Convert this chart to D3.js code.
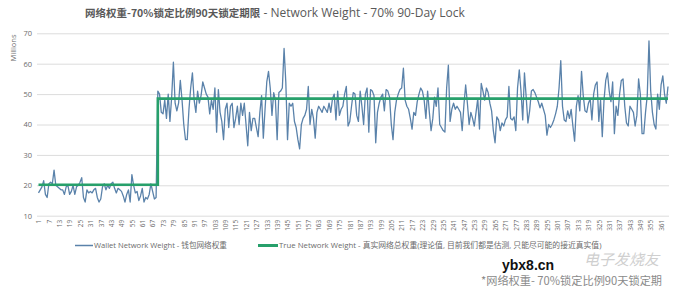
<!DOCTYPE html>
<html><head><meta charset="utf-8">
<script src="https://cdn.jsdelivr.net/npm/d3@7"></script>
<style>body{margin:0;background:#fff}svg{display:block}</style>
</head><body><svg id="c" width="680" height="296"></svg>
<script>
// Wallet Network Weight (millions), one value per day, days 1..365
const wallet = [
  17.5, 18.5, 19.5, 21.5, 17, 16, 20.5, 21, 20.5, 25,
  20, 19.5, 19, 18.5, 18.5, 17, 19.5, 20, 17, 18,
  20, 17, 19.5, 20, 21, 22.5, 16, 14.5, 18.5, 17.5,
  18, 17.5, 18.5, 19, 16, 14.5, 15.5, 19.5, 20.5, 18.5,
  20, 19, 20.5, 21, 19, 17.5, 19, 18.5, 18, 16.5,
  14.5, 17, 18.5, 14.5, 23.5, 20, 17.5, 18, 15, 16.5,
  19, 14.5, 16, 15.5, 17, 20.5, 18, 15.5, 16,
  51, 50, 44, 43.5, 48, 42, 50, 41, 49, 60.5, 47,
  44.5, 47, 54.5, 48, 40, 35, 35, 45, 52, 57,
  48, 44, 51, 47, 49.5, 54, 52, 50, 49, 43.5,
  48, 45, 52, 37.5, 51.5, 44, 41, 35, 45, 47,
  39, 46, 47, 39, 42, 46, 40, 47, 43, 47,
  40, 33, 44, 38, 42, 42, 39, 36, 44, 49.5,
  35.5, 45, 54, 57.5, 52, 43, 50.5, 48, 35, 50.5,
  51, 52, 65, 54, 35, 47, 46, 47, 41, 39,
  35, 32, 40, 42, 43, 45, 52.5, 40, 45, 42,
  35.5, 44, 46, 45, 44, 46, 45, 44, 47, 44,
  48.5, 50, 41.5, 51, 43, 45, 46, 50, 52.5, 39.5,
  41, 46, 50.5, 50, 43, 41, 51, 46, 40, 50,
  52, 37.5, 51.5, 51, 49.5, 34, 44, 47, 49, 50,
  44.5, 51.5, 51, 49, 40, 35, 44, 48, 50, 51.5,
  52, 58.5, 48, 46, 45, 42, 38.5, 44, 43, 47.5,
  50, 52, 51, 48, 42, 51, 44, 38, 42, 49,
  46, 52, 40, 39, 38, 37.5, 52, 59.5, 41, 45,
  47, 45, 46, 45, 44, 38, 46.5, 53, 47, 40,
  44, 42, 39.5, 44, 48.5, 38.5, 53.5, 51, 48, 52,
  50.5, 47, 44.5, 38, 34, 42.5, 41.5, 38, 40.5, 39.5,
  41.5, 42.5, 52.5, 42, 41.5, 42.5, 38, 52, 58, 51,
  41.5, 57, 49, 40.5, 44.5, 51, 51.5, 50.5, 49, 47.5,
  45.5, 47, 45, 43, 36.5, 40, 39, 40, 41.5, 43.5,
  46, 52, 61, 46, 41.5, 41, 44.5, 42, 45, 39.5,
  34.5, 46, 49.5, 44.5, 57.5, 49.5, 44.5, 44, 47, 48.5,
  41.5, 50, 53, 54, 41, 48, 36, 48, 54.5, 57,
  51, 47.5, 54, 37, 46, 43, 50, 54.5, 55, 46,
  40.5, 39.5, 46, 45, 44, 39.5, 43, 55, 50, 37,
  37, 44, 49.5, 67.5, 51, 44, 40, 38.5, 50, 45,
  53, 56, 50, 47, 52.5
];
// True Network Weight: step line
const trueDays = [1, 70, 70, 365];
const trueValues = [20.2, 20.2, 48.5, 48.5];
const yTicks = [10, 20, 30, 40, 50, 60, 70];
const xTicks = d3.range(1, 366, 6);
const titleCN = "网络权重-70%锁定比例90天锁定期限";
const titleEN = " - Network Weight - 70% 90-Day Lock";
const yLabel = "Millions";
const legendNames = ["Wallet Network Weight - 钱包网络权重",
  "True Network Weight - 真实网络总权重(理论值, 目前我们都是估测, 只能尽可能的接近真实值)"];
const footnote = "*网络权重- 70%锁定比例90天锁定期";

const FONT = "'Open Sans','Noto Sans CJK SC',sans-serif";
const svg = d3.select("#c").style("font-family", FONT);
svg.append("rect").attr("width", 680).attr("height", 296).attr("fill", "#fff");

const x = d3.scaleLinear().domain([1, 365]).range([38.5, 668]);
const y = d3.scaleLinear().domain([10, 70]).range([215.7, 33.3]);
const gridL = 37, gridR = 669;

// y axis + gridlines
const ya = svg.append("g").attr("transform", `translate(${gridL},0)`)
  .call(d3.axisLeft(y).tickValues(yTicks).tickSize(-(gridR - gridL)).tickPadding(5));
ya.select(".domain").remove();
ya.selectAll(".tick line").attr("stroke", "#dcdcdc").attr("stroke-width", 1);
ya.selectAll(".tick text").attr("fill", "#6b6b6b").style("font-size", "7.5px").style("font-family", FONT);

// x axis labels
const xa = svg.append("g").attr("transform", `translate(0,${y(10)})`)
  .call(d3.axisBottom(x).tickValues(xTicks).tickSize(0));
xa.select(".domain").remove();
xa.selectAll(".tick text")
  .attr("transform", "rotate(-90)")
  .attr("x", -4).attr("y", 0).attr("dy", "0.35em")
  .style("text-anchor", "end")
  .attr("fill", "#6b6b6b").style("font-size", "6.5px").style("font-family", FONT);

// y label
svg.append("text").attr("transform", "translate(16,48) rotate(-90)")
  .attr("text-anchor", "middle").attr("fill", "#6b6b6b")
  .style("font-size", "7.5px").text(yLabel);

// wallet line
const line = d3.line().x((d, i) => x(i + 1)).y(d => y(d));
svg.append("path").datum(wallet).attr("d", line)
  .attr("fill", "none").attr("stroke", "#5a82aa").attr("stroke-width", 1.3)
  .attr("stroke-linejoin", "round");

// true line
const tline = d3.line().x((d, i) => x(trueDays[i])).y(d => y(d));
svg.append("path").datum(trueValues).attr("d", tline)
  .attr("fill", "none").attr("stroke", "#27a06b").attr("stroke-width", 2.6);

// title
const t = svg.append("text").attr("x", 85).attr("y", 17).attr("fill", "#595959");
t.append("tspan").style("font-family", "'Noto Sans CJK SC',sans-serif").style("font-weight", "bold")
  .style("font-size", "10.5px").text(titleCN);
t.append("tspan").style("font-size", "12px").text(titleEN);

// legend
const lg = svg.append("g");
lg.append("line").attr("x1", 75).attr("x2", 93).attr("y1", 245.5).attr("y2", 245.5)
  .attr("stroke", "#5a82aa").attr("stroke-width", 1.5);
lg.append("text").attr("x", 94).attr("y", 248).attr("fill", "#6b6b6b")
  .style("font-size", "7.6px").text(legendNames[0]);
lg.append("line").attr("x1", 258).attr("x2", 278).attr("y1", 245.5).attr("y2", 245.5)
  .attr("stroke", "#27a06b").attr("stroke-width", 3);
lg.append("text").attr("x", 279).attr("y", 248).attr("fill", "#6b6b6b")
  .style("font-size", "7.8px").text(legendNames[1]);

// footnote + watermark
svg.append("text").attr("x", 481).attr("y", 285).attr("fill", "#8a8a8a")
  .style("font-family", "'Noto Sans CJK SC',sans-serif").style("font-size", "11.2px").text(footnote);
svg.append("text").attr("x", 502).attr("y", 270).attr("fill", "#111")
  .style("font-family", "'Liberation Sans',Arial,sans-serif").style("font-weight", "bold")
  .style("font-size", "14px").text("ybx8.cn");
svg.append("text").attr("x", 584).attr("y", 265).attr("fill", "#cfcfcf")
  .style("font-family", "'Noto Sans CJK SC',sans-serif").style("font-style", "italic")
  .style("font-size", "15px").text("电子发烧友");
</script></body></html>
